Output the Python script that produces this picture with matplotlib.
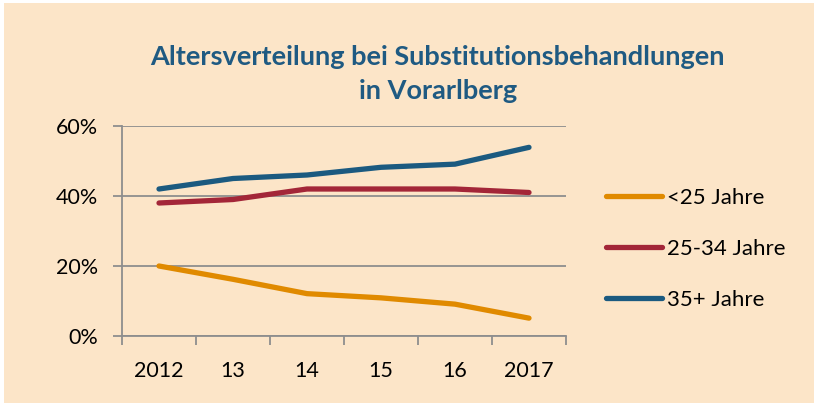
import matplotlib
matplotlib.use("Agg")
import matplotlib.pyplot as plt
from matplotlib.ticker import FixedLocator, PercentFormatter
from matplotlib.lines import Line2D
from matplotlib.patches import Rectangle

years = ["2012", "13", "14", "15", "16", "2017"]
under25 = [20, 16.2, 12.1, 10.9, 9.1, 5.1]
age25_34 = [38, 39, 42, 42, 42, 41]
over35 = [42, 45, 46, 48.2, 49.1, 53.9]
series_names = ["<25 Jahre", "25-34 Jahre", "35+ Jahre"]
colors = ["#E08A00", "#A32638", "#1B5A80"]

bg = "#FCE5C8"
grid_c = "#8E8E8E"
fam = ["Lato", "DejaVu Sans"]

fig = plt.figure(figsize=(8.14, 4.03), dpi=100, facecolor=bg)
W, H = 814, 403
# thin white margin at top and left as in the source image
fig.patches.append(Rectangle((0, 1 - 3 / H), 1, 3 / H, transform=fig.transFigure,
                             facecolor="white", edgecolor="none", zorder=0))
fig.patches.append(Rectangle((0, 0), 4 / W, 1, transform=fig.transFigure,
                             facecolor="white", edgecolor="none", zorder=0))

ax = fig.add_axes([122 / W, (H - 336) / H, (566 - 122) / W, (336 - 126) / H])
ax.set_facecolor(bg)

x = list(range(len(years)))
for vals, c in zip([under25, age25_34, over35], colors):
    ax.plot(x, vals, color=c, lw=3.8, solid_capstyle="round", solid_joinstyle="round")

ax.set_xlim(-0.5, len(years) - 0.5)
ax.set_ylim(0, 60)
ax.set_yticks([0, 20, 40, 60])
ax.yaxis.set_major_formatter(PercentFormatter(decimals=0))
ax.grid(axis="y", color=grid_c, lw=1.3)
ax.set_axisbelow(True)

ax.set_xticks(x)
ax.set_xticklabels(years)
ax.xaxis.set_minor_locator(FixedLocator([i - 0.5 for i in range(len(years) + 1)]))
ax.tick_params(axis="x", which="major", length=0, pad=18, labelsize=15.5)
ax.tick_params(axis="x", which="minor", length=6.5, width=1.3, color=grid_c, direction="out")
ax.tick_params(axis="y", length=6.5, width=1.3, color=grid_c, direction="out", labelsize=15.5, pad=11)
for lab in ax.get_xticklabels() + ax.get_yticklabels():
    lab.set_family(fam)

for s in ["top", "right"]:
    ax.spines[s].set_visible(False)
for s in ["left", "bottom"]:
    ax.spines[s].set_color(grid_c)
    ax.spines[s].set_linewidth(1.3)

fig.text(437 / W, 1 - 57 / H, "Altersverteilung bei Substitutionsbehandlungen",
         ha="center", va="center", fontsize=19.5, fontweight="bold", color="#1F5A82", family=fam)
fig.text(438 / W, 1 - 91 / H, "in Vorarlberg",
         ha="center", va="center", fontsize=19.5, fontweight="bold", color="#1F5A82", family=fam)

handles = [Line2D([], [], color=c, lw=3.8, solid_capstyle="round") for c in colors]
leg = fig.legend(handles, series_names, loc="center left", bbox_to_anchor=(606 / W, 1 - 249 / H),
                 frameon=False, handlelength=2.5, handletextpad=0.25,
                 labelspacing=1.4, borderpad=0, borderaxespad=0,
                 prop={"family": fam, "size": 16})

fig.savefig("out.png", dpi=100, facecolor=bg)
